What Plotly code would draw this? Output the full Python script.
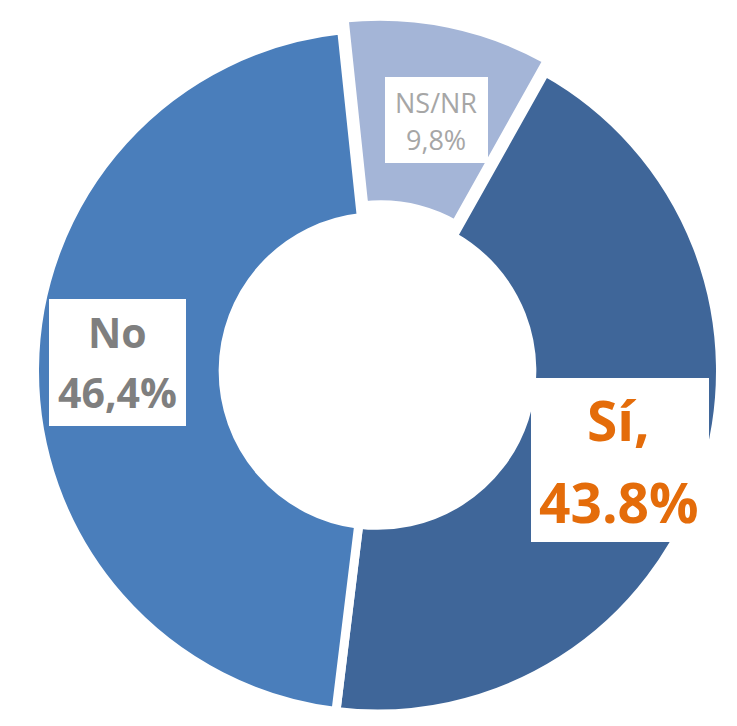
import plotly.graph_objects as go

labels = ["NS/NR", "Sí", "No"]
values = [9.8, 43.8, 46.4]
colors = ["#A4B5D7", "#3F6699", "#4A7EBB"]
label_name = ["NS/NR", "Sí,", "No"]
label_pct = ["9,8%", "43.8%", "46,4%"]

W, H = 737, 726

# pie geometry (pixels): centre and radius
CX, CY, R, PULL = 377.5, 371, 343, 0.035
half = R * (1 + PULL)

fig = go.Figure(go.Pie(
    labels=labels,
    values=values,
    sort=False,
    direction="clockwise",
    rotation=-6,
    hole=0.45,
    pull=[PULL, 0, 0],
    marker=dict(colors=colors, line=dict(color="white", width=9)),
    textinfo="none",
    hoverinfo="label+percent",
    showlegend=False,
    domain=dict(x=[(CX - half) / W, (CX + half) / W],
                y=[max(0, 1 - (CY + half) / H), 1 - (CY - half) / H]),
))


def box(x0, y0, x1, y1):
    fig.add_shape(type="rect", xref="paper", yref="paper",
                  x0=x0 / W, x1=x1 / W, y0=1 - y1 / H, y1=1 - y0 / H,
                  fillcolor="white", line=dict(width=0), layer="above")


def txt(text, cx, cy, size, color, bold):
    fig.add_annotation(
        x=cx / W, y=1 - cy / H, xref="paper", yref="paper",
        xanchor="center", yanchor="middle",
        text=f"<b>{text}</b>" if bold else text,
        showarrow=False,
        font=dict(family="Open Sans", size=size, color=color),
    )


# NS/NR label
box(385, 77, 488, 163)
txt(label_name[0], 436, 103, 27, "#A6A6A6", False)
txt(label_pct[0], 436, 140, 27, "#A6A6A6", False)

# Sí label
box(531, 378, 709, 542)
txt(label_name[1], 618, 419, 55, "#E46C0A", True)
txt(label_pct[1], 619, 501, 55, "#E46C0A", True)

# No label
box(49, 299, 186, 426)
txt(label_name[2], 117, 332, 41, "#7F7F7F", True)
txt(label_pct[2], 117, 392, 41, "#7F7F7F", True)

fig.update_layout(
    width=W, height=H,
    margin=dict(l=0, r=0, t=0, b=0),
    paper_bgcolor="white",
    plot_bgcolor="white",
)

fig.write_html("out.html",
               config={"displayModeBar": False},
               post_script="document.body.style.margin='0';"
                           "document.body.style.overflow='hidden';")
